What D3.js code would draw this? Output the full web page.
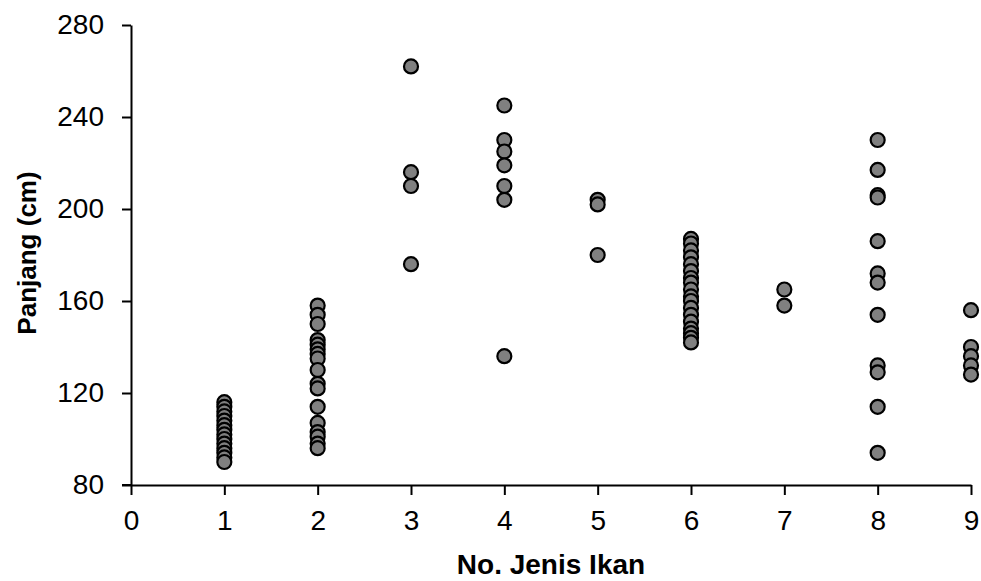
<!DOCTYPE html>
<html>
<head>
<meta charset="utf-8">
<script src="https://cdn.jsdelivr.net/npm/d3@7"></script>
<style>
    body { margin: 0; background: #fff; }
    text { font-family: "Liberation Sans", Arial, sans-serif; fill: #000; }
</style>
</head>
<body>
<div id="wrapper"></div>
<script>
// data: species number and measured length (cm)
const species = [1, 2, 3, 4, 5, 6, 7, 8, 9]
const lengths = [
    [116, 114, 112, 110, 108, 106, 104, 102, 100, 98, 96, 94, 92, 90],
    [158, 154, 150, 143, 141, 139, 137, 135, 130, 124, 122, 114, 107, 103, 101, 98, 96],
    [262, 216, 210, 176],
    [245, 230, 225, 219, 210, 204, 136],
    [204, 202, 180],
    [187, 185, 182, 179, 176, 173, 170, 168, 165, 162, 160, 157, 154, 151, 148, 146, 144, 142],
    [165, 158],
    [230, 217, 206, 205, 186, 172, 168, 154, 132, 129, 114, 94],
    [156, 140, 136, 132, 128]
]
const xTicks = [0, 1, 2, 3, 4, 5, 6, 7, 8, 9]
const yTicks = [80, 120, 160, 200, 240, 280]

const dataset = []
species.forEach((s, i) => lengths[i].forEach(v => dataset.push({ species: s, length: v })))

const xAccessor = d => d.species
const yAccessor = d => d.length

// chart dimensions
let dimensions = {
    width: 981,
    height: 581,
    margin: { top: 25, right: 10, bottom: 96, left: 131 }
}
dimensions.boundedWidth = 971 - dimensions.margin.left
dimensions.boundedHeight = dimensions.height - dimensions.margin.top - dimensions.margin.bottom

const wrapper = d3.select("#wrapper")
    .append("svg")
    .attr("width", dimensions.width)
    .attr("height", dimensions.height)

const bounds = wrapper.append("g")
    .attr("transform", `translate(${dimensions.margin.left},${dimensions.margin.top})`)

// scales
const xScale = d3.scaleLinear()
    .domain([0, 9])
    .range([0, dimensions.boundedWidth])

const yScale = d3.scaleLinear()
    .domain([80, 280])
    .range([dimensions.boundedHeight, 0])

// axes
const yAxis = bounds.append("g")
    .call(d3.axisLeft(yScale).tickValues(yTicks).tickSize(9).tickPadding(18).tickSizeOuter(0))
yAxis.select(".domain").attr("stroke-width", 2)
yAxis.selectAll(".tick line").attr("stroke-width", 2)
yAxis.selectAll(".tick text")
    .attr("font-size", 28)
    .attr("font-family", "Liberation Sans, Arial, sans-serif")

const xAxis = bounds.append("g")
    .attr("transform", `translate(0,${dimensions.boundedHeight})`)
    .call(d3.axisBottom(xScale).tickValues(xTicks).tickSize(10).tickPadding(15).tickSizeOuter(0))
xAxis.select(".domain").attr("stroke-width", 2)
xAxis.selectAll(".tick line").attr("stroke-width", 2)
xAxis.selectAll(".tick text")
    .attr("font-size", 28)
    .attr("font-family", "Liberation Sans, Arial, sans-serif")

// short stub left of the origin, where the axes cross
bounds.append("line")
    .attr("x1", -9).attr("x2", 0)
    .attr("y1", dimensions.boundedHeight).attr("y2", dimensions.boundedHeight)
    .attr("stroke", "#000").attr("stroke-width", 2)

// axis titles
wrapper.append("text")
    .attr("x", 551)
    .attr("y", 574)
    .attr("text-anchor", "middle")
    .attr("font-size", 28)
    .attr("font-weight", "bold")
    .text("No. Jenis Ikan")

wrapper.append("text")
    .attr("transform", "translate(36,253) rotate(-90)")
    .attr("text-anchor", "middle")
    .attr("font-size", 26)
    .attr("font-weight", "bold")
    .text("Panjang (cm)")

// points
bounds.append("g")
    .selectAll("circle")
    .data(dataset)
    .join("circle")
    .attr("cx", d => xScale(xAccessor(d)))
    .attr("cy", d => yScale(yAccessor(d)))
    .attr("r", 7)
    .attr("fill", "#808080")
    .attr("stroke", "#000")
    .attr("stroke-width", 2.2)
</script>
</body>
</html>
